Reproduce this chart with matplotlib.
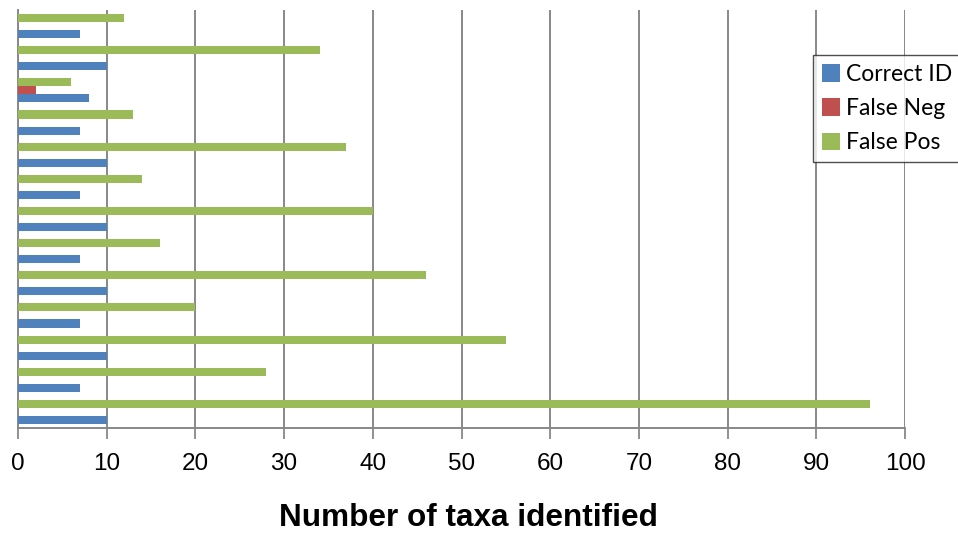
import numpy as np
import matplotlib
matplotlib.use("Agg")
import matplotlib.pyplot as plt

# groups listed bottom to top (no category labels in the chart)
groups = np.arange(13)
correct_id = [10, 7, 10, 7, 10, 7, 10, 7, 10, 7, 8, 10, 7]
false_neg = [0, 0, 0, 0, 0, 0, 0, 0, 0, 0, 2, 0, 0]
false_pos = [96, 28, 55, 20, 46, 16, 40, 14, 37, 13, 6, 34, 12]
series_names = ["Correct ID", "False Neg", "False Pos"]
xticks = list(range(0, 101, 10))

blue = "#4f81bd"
red = "#c0504d"
green = "#9bbb59"
grid_col = "#888888"

fig = plt.figure(figsize=(9.58, 5.33), dpi=100)
ax = fig.add_axes([18 / 958, 1 - 428 / 533, (905 - 18) / 958, (428 - 10) / 533])

h = 0.25
ax.barh(groups - h, correct_id, height=h, color=blue, label=series_names[0], zorder=3)
ax.barh(groups, false_neg, height=h, color=red, label=series_names[1], zorder=3)
ax.barh(groups + h, false_pos, height=h, color=green, label=series_names[2], zorder=3)

ax.set_xlim(0, 100)
ax.set_ylim(-0.5, 12.5)
ax.set_xticks(xticks)
ax.set_xticklabels([str(t) for t in xticks], fontsize=17.5, family="Liberation Sans")
ax.set_yticks([])
ax.tick_params(axis="x", length=8, width=1.3, color=grid_col, pad=10)
ax.xaxis.grid(True, color=grid_col, linewidth=1.4, zorder=0)

for s in ["top", "right"]:
    ax.spines[s].set_visible(False)
for s in ["left", "bottom"]:
    ax.spines[s].set_color(grid_col)
    ax.spines[s].set_linewidth(1.4)

ax.set_xlabel("Number of taxa identified", fontsize=22.7, fontweight="bold",
              family="Liberation Sans", labelpad=20)
ax.xaxis.label.set_x(0.5 + 7 / 887)

leg = fig.legend(loc="upper left", bbox_to_anchor=(813 / 958, 1 - 55 / 533),
                 prop={"family": "Lato", "size": 16.5}, frameon=True, fancybox=False,
                 handlelength=0.8, handleheight=0.8, handletextpad=0.25,
                 labelspacing=0.58, borderpad=0.38, borderaxespad=0)
leg.get_frame().set_edgecolor("#222222")
leg.get_frame().set_linewidth(1.0)

fig.savefig("out.png", dpi=100)
